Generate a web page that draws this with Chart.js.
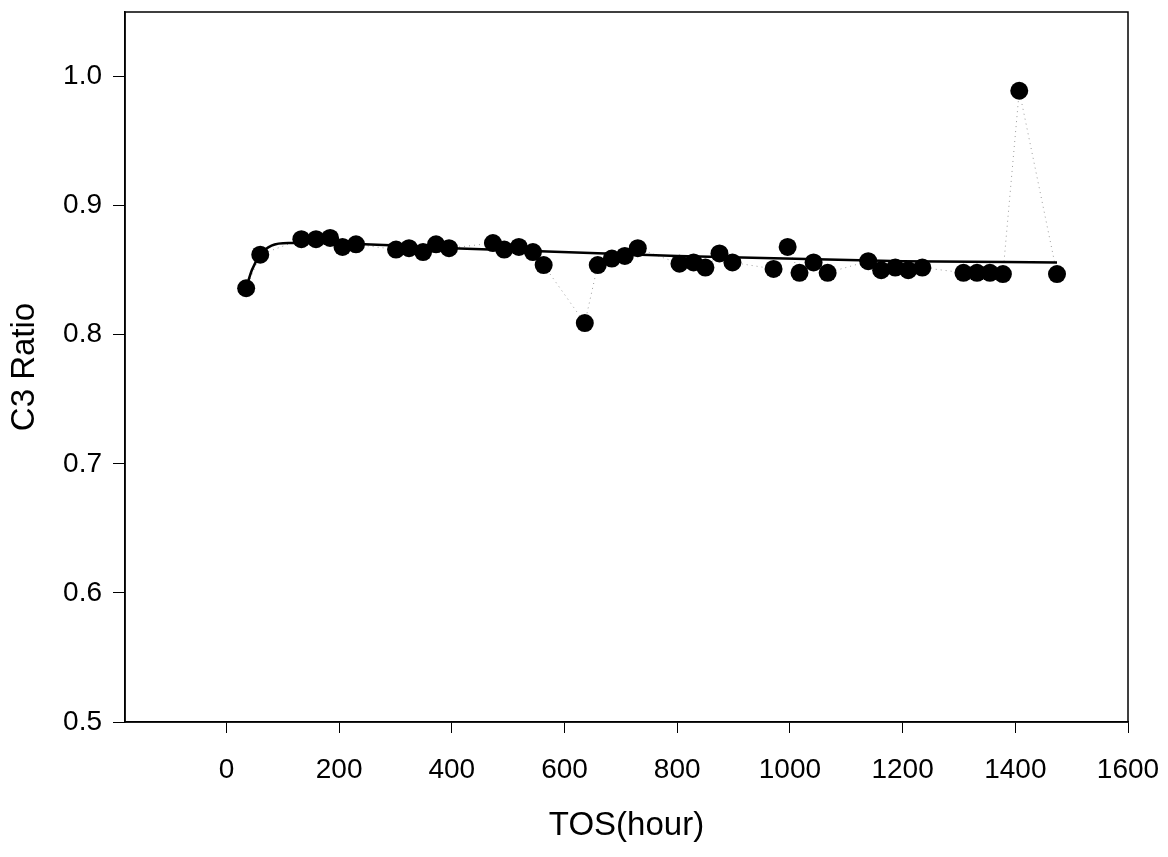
<!DOCTYPE html>
<html>
<head>
<meta charset="utf-8">
<title>C3 Ratio vs TOS</title>
<script src="https://cdn.jsdelivr.net/npm/chart.js@4.4.1/dist/chart.umd.min.js"></script>
<style>
  html, body { margin: 0; padding: 0; background: #fff; }
  #wrap { width: 1168px; height: 857px; }
</style>
</head>
<body>
<div id="wrap"><canvas id="c3chart"></canvas></div>
<script>
/* global Chart */

const tosHours = [35, 60, 133, 159, 184, 206, 230, 301, 324, 349, 372, 395,
  473, 493, 519, 544, 563, 636, 659, 684, 707, 730, 804, 829, 850, 875, 898,
  971, 996, 1017, 1042, 1067, 1139, 1162, 1187, 1210, 1235, 1308, 1332, 1355,
  1378, 1407, 1474];
const c3Ratio = [0.836, 0.862, 0.874, 0.874, 0.875, 0.868, 0.870, 0.866, 0.867,
  0.864, 0.870, 0.867, 0.871, 0.866, 0.868, 0.864, 0.854, 0.809, 0.854, 0.859,
  0.861, 0.867, 0.855, 0.856, 0.852, 0.863, 0.856, 0.851, 0.868, 0.848, 0.856,
  0.848, 0.857, 0.850, 0.852, 0.850, 0.852, 0.848, 0.848, 0.848, 0.847, 0.989,
  0.847];

// Fitted trend curve at a few places
const fitHours = [35, 45, 60, 80, 110, 160, 400, 800, 1200, 1474];
const fitRatio = [0.836, 0.850, 0.862, 0.869, 0.871, 0.871, 0.867, 0.861, 0.857, 0.856];

const xTicks = [0, 200, 400, 600, 800, 1000, 1200, 1400, 1600];
const yTicks = [0.5, 0.6, 0.7, 0.8, 0.9, 1.0];

const zip = (xs, ys) => xs.map((x, i) => ({ x, y: ys[i] }));

/* Full frame round the plot area */
const frame = {
  id: 'frame',
  afterDatasetsDraw(chart) {
    const { ctx, chartArea: a } = chart;
    ctx.save();
    ctx.strokeStyle = '#000';
    ctx.lineWidth = 1.5;
    ctx.strokeRect(a.left, a.top, a.right - a.left, a.bottom - a.top);
    ctx.restore();
  },
};

new Chart(document.getElementById('c3chart'), {
  type: 'scatter',
  data: {
    datasets: [
      {
        label: 'fit',
        data: zip(fitHours, fitRatio),
        showLine: true,
        borderColor: '#000',
        borderWidth: 2.5,
        pointRadius: 0,
        cubicInterpolationMode: 'monotone',
        order: 1,
      },
      {
        label: 'C3 Ratio',
        data: zip(tosHours, c3Ratio),
        showLine: true,
        borderColor: '#9a9a9a',
        borderWidth: 1,
        borderDash: [1, 4],
        pointRadius: 9,
        pointBackgroundColor: '#000',
        pointBorderColor: '#000',
        pointBorderWidth: 0,
        order: 2,
      },
    ],
  },
  options: {
    responsive: true,
    maintainAspectRatio: false,
    animation: false,
    layout: { padding: { top: 12, right: 40, left: 0, bottom: 0 } },
    plugins: { legend: { display: false }, tooltip: { enabled: false } },
    scales: {
      x: {
        type: 'linear',
        min: -180,
        max: 1600,
        afterBuildTicks: (s) => { s.ticks = xTicks.map((v) => ({ value: v })); },
        afterFit: (s) => { s.height = 135; s.paddingLeft = 0; s.paddingRight = 0; },
        grid: { drawOnChartArea: false, drawTicks: true, tickLength: 11, color: '#000', lineWidth: 1 },
        border: { color: '#000', width: 1.5 },
        ticks: {
          color: '#000',
          padding: 20,
          maxRotation: 0,
          callback: (v) => String(v),
          font: { family: '"Liberation Sans", Arial, sans-serif', size: 28 },
        },
        title: {
          display: true,
          text: 'TOS(hour)',
          color: '#000',
          padding: { top: 0, bottom: 11 },
          font: { family: '"Liberation Sans", Arial, sans-serif', size: 33 },
        },
      },
      y: {
        type: 'linear',
        min: 0.5,
        max: 1.05,
        afterBuildTicks: (s) => { s.ticks = yTicks.map((v) => ({ value: v })); },
        afterFit: (s) => { s.width = 125; s.paddingTop = 0; s.paddingBottom = 0; },
        grid: { drawOnChartArea: false, drawTicks: true, tickLength: 12, color: '#000', lineWidth: 1 },
        border: { color: '#000', width: 1.5 },
        ticks: {
          color: '#000',
          padding: 11,
          callback: (v) => Number(v).toFixed(1),
          font: { family: '"Liberation Sans", Arial, sans-serif', size: 28 },
        },
        title: {
          display: true,
          text: 'C3 Ratio',
          color: '#000',
          padding: { top: 5, bottom: 0 },
          font: { family: '"Liberation Sans", Arial, sans-serif', size: 33 },
        },
      },
    },
  },
  plugins: [frame],
});
</script>
</body>
</html>
